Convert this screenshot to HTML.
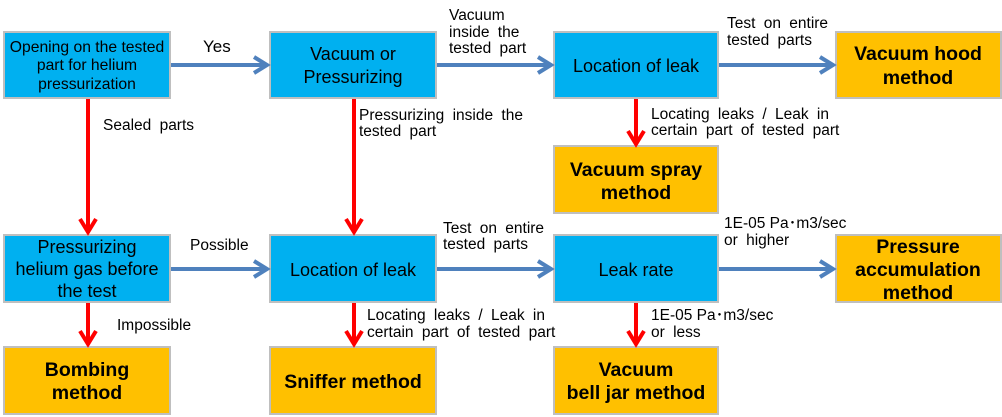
<!DOCTYPE html>
<html><head><meta charset="utf-8"><style>
body{margin:0;background:#fff;}
svg{display:block;font-family:"Liberation Sans",Arial,sans-serif;}
.b{fill:#00b0f0;stroke:#bfbfbf;stroke-width:2}
.o{fill:#ffc000;stroke:#bfbfbf;stroke-width:2}
.t{font-size:18px;fill:#000;text-anchor:middle}
.tb{font-size:19.5px;font-weight:bold;fill:#000;text-anchor:middle}
.s{font-size:15.7px;fill:#000;text-anchor:middle}
.l{font-size:15.5px;fill:#000;word-spacing:4px}
.bl{stroke:#4f81bd;stroke-width:4;fill:none}
.rd{stroke:#ff0000;stroke-width:4;fill:none}
</style></head><body>
<svg width="1002" height="417" viewBox="0 0 1002 417">
<rect class="b" x="4" y="32" width="166" height="66"/>
<text class="s" x="87" y="52">Opening on the tested</text>
<text class="s" x="87" y="70">part for helium</text>
<text class="s" x="87" y="89">pressurization</text>
<rect class="b" x="270" y="32" width="166" height="66"/>
<text class="t" x="353" y="60">Vacuum or</text>
<text class="t" x="353" y="83">Pressurizing</text>
<rect class="b" x="554" y="32" width="164" height="66"/>
<text class="t" x="636" y="72">Location of leak</text>
<rect class="o" x="836" y="32" width="165" height="66"/>
<text class="tb" x="918" y="60">Vacuum hood</text>
<text class="tb" x="918" y="84">method</text>
<rect class="o" x="554" y="146" width="164" height="67"/>
<text class="tb" x="636" y="176">Vacuum spray</text>
<text class="tb" x="636" y="199">method</text>
<rect class="b" x="4" y="235" width="166" height="67"/>
<text class="t" x="87" y="253">Pressurizing</text>
<text class="t" x="87" y="275">helium gas before</text>
<text class="t" x="87" y="297">the test</text>
<rect class="b" x="270" y="235" width="166" height="67"/>
<text class="t" x="353" y="276">Location of leak</text>
<rect class="b" x="554" y="235" width="164" height="67"/>
<text class="t" x="636" y="276">Leak rate</text>
<rect class="o" x="836" y="235" width="165" height="67"/>
<text class="tb" x="918" y="253">Pressure</text>
<text class="tb" x="918" y="276">accumulation</text>
<text class="tb" x="918" y="299">method</text>
<rect class="o" x="4" y="347" width="166" height="67"/>
<text class="tb" x="87" y="376">Bombing</text>
<text class="tb" x="87" y="399">method</text>
<rect class="o" x="270" y="347" width="166" height="67"/>
<text class="tb" x="353" y="388">Sniffer method</text>
<rect class="o" x="554" y="347" width="164" height="67"/>
<text class="tb" x="636" y="376">Vacuum</text>
<text class="tb" x="636" y="399">bell jar method</text>
<path class="bl" d="M171 65H266M254 57L267 65L254 73"/>
<path class="bl" d="M437 65H550M538 57L551 65L538 73"/>
<path class="bl" d="M719 65H832M820 57L833 65L820 73"/>
<path class="bl" d="M171 269H266M254 261L267 269L254 277"/>
<path class="bl" d="M437 269H550M538 261L551 269L538 277"/>
<path class="bl" d="M719 269H832M820 261L833 269L820 277"/>
<path class="rd" d="M88 99V231M80 219L88 232L96 219"/>
<path class="rd" d="M354 99V231M346 219L354 232L362 219"/>
<path class="rd" d="M636 99V143M628 131L636 144L644 131"/>
<path class="rd" d="M88 303V343M80 331L88 344L96 331"/>
<path class="rd" d="M354 303V343M346 331L354 344L362 331"/>
<path class="rd" d="M636 303V343M628 331L636 344L644 331"/>
<text x="203" y="52" style="font-size:17px">Yes</text>
<text class="l" x="103" y="130">Sealed parts</text>
<text class="l" x="449" y="20">Vacuum</text>
<text class="l" x="449" y="37">inside the</text>
<text class="l" x="449" y="53">tested part</text>
<text class="l" x="727" y="28">Test on entire</text>
<text class="l" x="727" y="45">tested parts</text>
<text class="l" x="359" y="120">Pressurizing inside the</text>
<text class="l" x="359" y="136">tested part</text>
<text class="l" x="651" y="119">Locating leaks / Leak in</text>
<text class="l" x="651" y="135">certain part of tested part</text>
<text class="l" x="190" y="250">Possible</text>
<text class="l" x="443" y="233">Test on entire</text>
<text class="l" x="443" y="249">tested parts</text>
<text class="l" x="724" y="228" style="word-spacing:0">1E-05 Pa･m3/sec</text>
<text class="l" x="724" y="245">or higher</text>
<text class="l" x="117" y="330">Impossible</text>
<text class="l" x="367" y="320">Locating leaks / Leak in</text>
<text class="l" x="367" y="337">certain part of tested part</text>
<text class="l" x="651" y="320" style="word-spacing:0">1E-05 Pa･m3/sec</text>
<text class="l" x="651" y="337">or less</text>
</svg>
</body></html>
